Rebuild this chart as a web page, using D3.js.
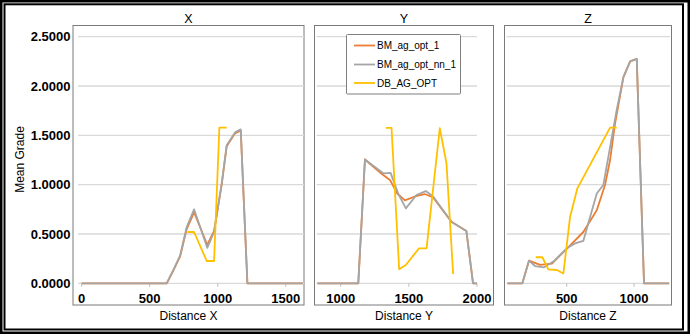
<!DOCTYPE html>
<html><head><meta charset="utf-8">
<script src="https://cdn.jsdelivr.net/npm/d3@7"></script>
<style>
html,body{margin:0;padding:0;background:#fff;}
svg{display:block;}
text{font-family:"Liberation Sans",Arial,sans-serif;}
</style></head>
<body>
<svg id="chart" width="690" height="334"></svg>
<script>
// ---------- data ----------
const seriesNames = ["BM_ag_opt_1", "BM_ag_opt_nn_1", "DB_AG_OPT"];
const seriesColors = ["#ED7D31", "#A5A5A5", "#FFC000"];
const panelTitles = ["X", "Y", "Z"];
const axisTitles = ["Distance X", "Distance Y", "Distance Z"];
const gradeTicks = [0, 0.5, 1.0, 1.5, 2.0, 2.5];
const xTicksX = [0, 500, 1000, 1500];
const xTicksY = [1000, 1500, 2000];
const xTicksZ = [500, 1000];

// [distance, mean grade]
const xOrange = [[0,0],[300,0],[625,0],[674,0.13],[723,0.27],[772,0.55],[826,0.72],[923,0.39],[973,0.53],[1029,1.0],[1066,1.39],[1127,1.52],[1169,1.55],[1218,0],[1625,0]];
const xGray   = [[0,0],[300,0],[625,0],[674,0.135],[723,0.28],[772,0.57],[826,0.75],[923,0.36],[973,0.52],[1029,1.01],[1066,1.40],[1127,1.53],[1169,1.56],[1218,0],[1625,0]];
const xYellow = [[777,0.52],[826,0.52],[919,0.226],[973,0.226],[1012,1.578],[1066,1.578]];

const yOrange = [[830,0],[1129,0],[1178,1.255],[1300,1.11],[1361,1.048],[1415,0.91],[1471,0.84],[1544,0.88],[1617,0.905],[1678,0.87],[1812,0.625],[1922,0.53],[1971,0],[2000,0]];
const yGray   = [[830,0],[1129,0],[1178,1.255],[1312,1.115],[1366,1.12],[1422,0.91],[1478,0.76],[1556,0.895],[1624,0.935],[1678,0.88],[1812,0.625],[1922,0.53],[1971,0],[2000,0]];
const yYellow = [[1331,1.575],[1373,1.575],[1429,0.142],[1478,0.186],[1575,0.355],[1630,0.355],[1727,1.572],[1776,1.217],[1825,0.094]];

const zOrange = [[60,0],[170,0],[220,0.23],[302,0.186],[390,0.20],[500,0.35],[623,0.52],[723,0.74],[785,1.0],[822,1.25],[859,1.62],[921,2.09],[971,2.25],[1020,2.275],[1074,0],[1260,0]];
const zGray   = [[60,0],[170,0],[220,0.23],[264,0.175],[331,0.162],[401,0.22],[500,0.355],[562,0.405],[623,0.43],[723,0.91],[772,0.997],[871,1.757],[921,2.09],[971,2.25],[1020,2.275],[1074,0],[1260,0]];
const zYellow = [[270,0.264],[319,0.264],[363,0.142],[426,0.135],[475,0.10],[525,0.675],[579,0.963],[822,1.578],[871,1.578]];

// ---------- layout ----------
const panels = [
  {title: panelTitles[0], axis: axisTitles[0], box:[73,25.5,304,305], range:[78,304], domain:[-27,1634], ticks:xTicksX, series:[xOrange,xGray,xYellow], yLabels:true},
  {title: panelTitles[1], axis: axisTitles[1], box:[314.5,25.5,493.5,305], range:[316.7,477], domain:[824,2000], ticks:xTicksY, series:[yOrange,yGray,yYellow], legend:true},
  {title: panelTitles[2], axis: axisTitles[2], box:[504.5,25.5,671.5,305], range:[506.7,670], domain:[54,1267], ticks:xTicksZ, series:[zOrange,zGray,zYellow]}
];

const svg = d3.select("#chart");
svg.append("rect").attr("x",0).attr("y",0).attr("width",690).attr("height",334).attr("fill","#fff");
// double frame
svg.append("rect").attr("x",1.25).attr("y",1.25).attr("width",687.5).attr("height",331.5)
  .attr("fill","none").attr("stroke","#000").attr("stroke-width",2.5);
svg.append("rect").attr("x",4.5).attr("y",4.3).attr("width",678.5).attr("height",325.2)
  .attr("fill","none").attr("stroke","#000").attr("stroke-width",2);

const y = d3.scaleLinear().domain([0,2.5]).range([283.3,36.7]);

panels.forEach((p,pi) => {
  const g = svg.append("g");
  const [bx0,by0,bx1,by1] = p.box;
  g.append("rect").attr("x",bx0).attr("y",by0).attr("width",bx1-bx0).attr("height",by1-by0)
    .attr("fill","#fff").attr("stroke","#7a7a7a").attr("stroke-width",1);
  const x = d3.scaleLinear().domain(p.domain).range(p.range);

  // gridlines
  g.selectAll(".grid").data(gradeTicks).join("line")
    .attr("x1",p.range[0]).attr("x2",p.range[1])
    .attr("y1",d=>y(d)).attr("y2",d=>y(d))
    .attr("stroke","#d9d9d9").attr("stroke-width",1.3);

  // x tick marks
  g.selectAll(".tm").data(p.ticks).join("line")
    .attr("x1",d=>x(d)).attr("x2",d=>x(d))
    .attr("y1",y(0)).attr("y2",y(0)+3.5)
    .attr("stroke","#bfbfbf").attr("stroke-width",1);

  // x tick labels
  g.selectAll(".tl").data(p.ticks).join("text")
    .attr("x",d=>x(d)).attr("y",302.5).attr("text-anchor","middle")
    .attr("font-size",13).attr("font-weight","bold").attr("fill","#000")
    .text(d=>d3.format("d")(d));

  // y labels
  if (p.yLabels) {
    g.selectAll(".yl").data(gradeTicks).join("text")
      .attr("x",70.5).attr("y",d=>y(d)+4.6).attr("text-anchor","end")
      .attr("font-size",13).attr("font-weight","bold").attr("fill","#000")
      .text(d=>d3.format(".4f")(d));
  }

  // series
  const line = d3.line().x(d=>x(d[0])).y(d=>y(d[1]));
  p.series.forEach((s,si) => {
    g.append("path").datum(s).attr("d",line).attr("fill","none")
      .attr("stroke",seriesColors[si]).attr("stroke-width",1.8).attr("stroke-linejoin","round");
  });

  // titles
  g.append("text").attr("x",(bx0+bx1)/2).attr("y",23).attr("text-anchor","middle")
    .attr("font-size",12.5).attr("fill","#000").text(p.title);
  g.append("text").attr("x",(bx0+bx1)/2).attr("y",320).attr("text-anchor","middle")
    .attr("font-size",12).attr("fill","#000").text(p.axis);

  if (p.legend) {
    const lg = g.append("g");
    lg.append("rect").attr("x",346.5).attr("y",34.5).attr("width",114).attr("height",59.5)
      .attr("fill","#fff").attr("stroke","#7f7f7f").attr("stroke-width",1).attr("rx",1);
    const ly = [45.5, 64.5, 83];
    seriesNames.forEach((n,i) => {
      lg.append("line").attr("x1",354).attr("x2",375).attr("y1",ly[i]).attr("y2",ly[i])
        .attr("stroke",seriesColors[i]).attr("stroke-width",1.8);
      lg.append("text").attr("x",377).attr("y",ly[i]+3.6).attr("font-size",10)
        .attr("fill","#000").text(n);
    });
  }
});

// y axis title
svg.append("text").attr("transform","translate(23.5,159.5) rotate(-90)")
  .attr("text-anchor","middle").attr("font-size",12).attr("fill","#000").text("Mean Grade");
</script>
</body></html>
